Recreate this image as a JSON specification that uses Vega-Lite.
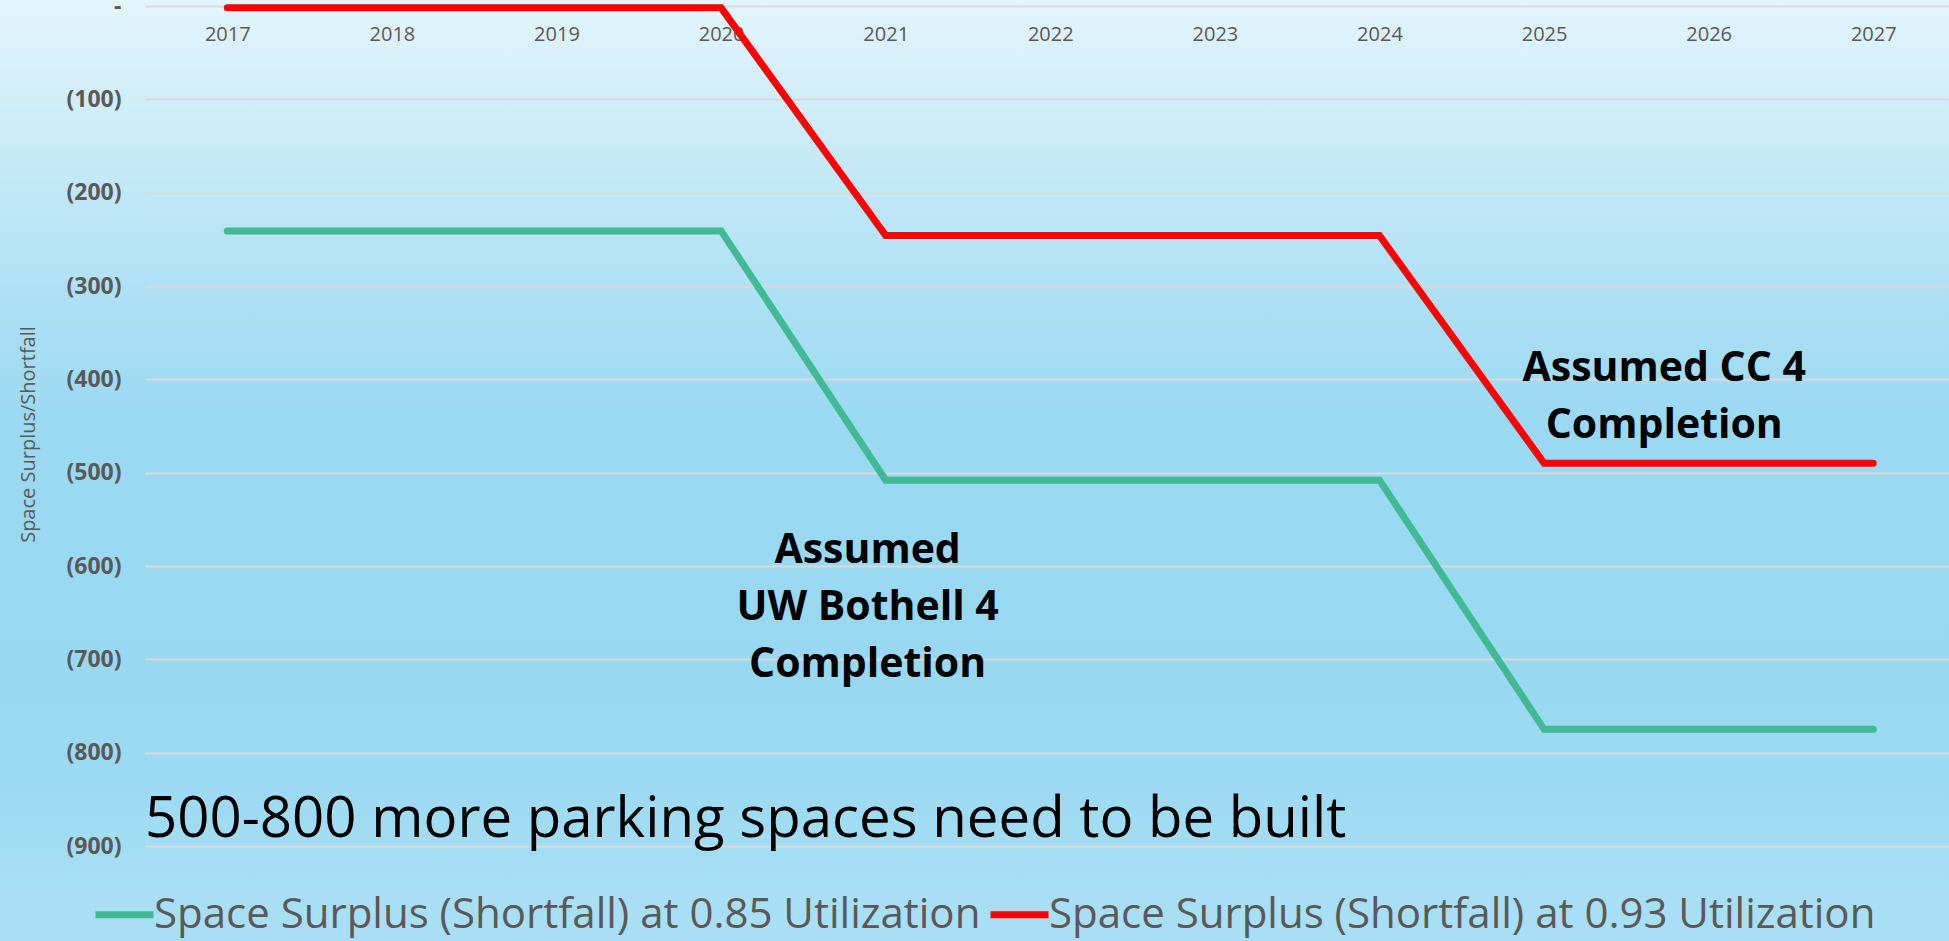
{
  "$schema": "https://vega.github.io/schema/vega-lite/v6.json",
  "width": 1949,
  "height": 895,
  "autosize": {"type": "none"},
  "padding": {"left": 0, "top": 0, "right": 0, "bottom": 46},
  "background": "#a9dff4",
  "config": {
    "font": "Open Sans",
    "view": {
      "stroke": null,
      "fill": {
        "gradient": "linear",
        "x1": 0, "y1": 0, "x2": 0, "y2": 1,
        "stops": [
          {"offset": 0, "color": "#e3f5fc"},
          {"offset": 0.168, "color": "#c8eaf7"},
          {"offset": 0.335, "color": "#ade0f4"},
          {"offset": 0.47, "color": "#9bd9f2"},
          {"offset": 0.78, "color": "#98d8f1"},
          {"offset": 0.894, "color": "#9edbf2"},
          {"offset": 1, "color": "#a7def4"}
        ]
      }
    }
  },
  "datasets": {
    "lines": [
      {"series": "Space Surplus (Shortfall) at 0.85 Utilization", "year": 2017, "value": -241},
      {"series": "Space Surplus (Shortfall) at 0.85 Utilization", "year": 2018, "value": -241},
      {"series": "Space Surplus (Shortfall) at 0.85 Utilization", "year": 2019, "value": -241},
      {"series": "Space Surplus (Shortfall) at 0.85 Utilization", "year": 2020, "value": -241},
      {"series": "Space Surplus (Shortfall) at 0.85 Utilization", "year": 2021, "value": -508},
      {"series": "Space Surplus (Shortfall) at 0.85 Utilization", "year": 2022, "value": -508},
      {"series": "Space Surplus (Shortfall) at 0.85 Utilization", "year": 2023, "value": -508},
      {"series": "Space Surplus (Shortfall) at 0.85 Utilization", "year": 2024, "value": -508},
      {"series": "Space Surplus (Shortfall) at 0.85 Utilization", "year": 2025, "value": -775},
      {"series": "Space Surplus (Shortfall) at 0.85 Utilization", "year": 2026, "value": -775},
      {"series": "Space Surplus (Shortfall) at 0.85 Utilization", "year": 2027, "value": -775},
      {"series": "Space Surplus (Shortfall) at 0.93 Utilization", "year": 2017, "value": -2},
      {"series": "Space Surplus (Shortfall) at 0.93 Utilization", "year": 2018, "value": -2},
      {"series": "Space Surplus (Shortfall) at 0.93 Utilization", "year": 2019, "value": -2},
      {"series": "Space Surplus (Shortfall) at 0.93 Utilization", "year": 2020, "value": -2},
      {"series": "Space Surplus (Shortfall) at 0.93 Utilization", "year": 2021, "value": -246},
      {"series": "Space Surplus (Shortfall) at 0.93 Utilization", "year": 2022, "value": -246},
      {"series": "Space Surplus (Shortfall) at 0.93 Utilization", "year": 2023, "value": -246},
      {"series": "Space Surplus (Shortfall) at 0.93 Utilization", "year": 2024, "value": -246},
      {"series": "Space Surplus (Shortfall) at 0.93 Utilization", "year": 2025, "value": -490},
      {"series": "Space Surplus (Shortfall) at 0.93 Utilization", "year": 2026, "value": -490},
      {"series": "Space Surplus (Shortfall) at 0.93 Utilization", "year": 2027, "value": -490}
    ],
    "notes": [
      {"year": 2020.89, "value": -596.5, "label": "Assumed\nUW Bothell 4\nCompletion"},
      {"year": 2025.73, "value": -401.8, "label": "Assumed CC 4\nCompletion"}
    ],
    "headline": [
      {"year": 2016.5, "value": -890.7, "label": "500-800 more parking spaces need to be built"}
    ]
  },
  "encoding": {
    "x": {
      "field": "year",
      "type": "quantitative",
      "scale": {"domain": [2016.5, 2027.46], "range": [145, 1949], "nice": false, "zero": false},
      "axis": {
        "orient": "bottom",
        "offset": -889,
        "values": [2017, 2018, 2019, 2020, 2021, 2022, 2023, 2024, 2025, 2026, 2027],
        "format": "d",
        "grid": false,
        "domain": false,
        "ticks": false,
        "tickSize": 0,
        "labelFlush": false,
        "labelPadding": 18,
        "labelFontSize": 20,
        "labelColor": "#595959",
        "labelFont": "Open Sans",
        "title": null
      }
    },
    "y": {
      "field": "value",
      "type": "quantitative",
      "scale": {"domain": [-952.5, 6.43], "nice": false, "zero": false},
      "axis": {
        "orient": "left",
        "offset": -126,
        "values": [0, -100, -200, -300, -400, -500, -600, -700, -800, -900],
        "labelExpr": "datum.value == 0 ? '-\u2007\u2007' : '(' + format(-datum.value, ',') + ')'",
        "labelFontSize": 23,
        "labelFontWeight": "bold",
        "labelColor": "#595959",
        "labelFont": "Open Sans",
        "labelPadding": 5,
        "grid": true,
        "gridColor": "#d9d9d9",
        "gridWidth": 2,
        "domain": false,
        "ticks": false,
        "tickSize": 0,
        "title": "Space Surplus/Shortfall",
        "titleFont": "Open Sans",
        "titleFontSize": 20,
        "titleFontWeight": "normal",
        "titleColor": "#595959",
        "titleX": -92,
        "titleY": 434,
        "titleAlign": "center",
        "titleAngle": -90,
        "titleBaseline": "alphabetic"
      }
    }
  },
  "layer": [
    {
      "data": {"name": "lines"},
      "mark": {"type": "line", "strokeWidth": 7, "strokeCap": "round"},
      "encoding": {
        "color": {
          "field": "series",
          "type": "nominal",
          "scale": {
            "domain": ["Space Surplus (Shortfall) at 0.85 Utilization", "Space Surplus (Shortfall) at 0.93 Utilization"],
            "range": ["#41b995", "#ff0000"]
          },
          "legend": {
            "orient": "none",
            "legendX": 92,
            "legendY": 882,
            "direction": "horizontal",
            "title": null,
            "symbolType": "stroke",
            "symbolSize": 3364,
            "symbolStrokeWidth": 7,
            "labelFont": "Open Sans",
            "labelFontSize": 42,
            "labelColor": "#595959",
            "labelLimit": 0,
            "labelOffset": -3,
            "columnPadding": -5,
            "padding": 0
          }
        }
      }
    },
    {
      "data": {"name": "notes"},
      "mark": {"type": "text", "font": "Open Sans", "fontWeight": "bold", "fontSize": 41, "lineBreak": "\n", "lineHeight": 57, "baseline": "alphabetic", "align": "center", "color": "#000000"},
      "encoding": {"text": {"field": "label"}}
    },
    {
      "data": {"name": "headline"},
      "mark": {"type": "text", "font": "Open Sans", "fontWeight": "normal", "fontSize": 56.4, "baseline": "alphabetic", "align": "left", "color": "#000000"},
      "encoding": {"text": {"field": "label"}}
    }
  ]
}
